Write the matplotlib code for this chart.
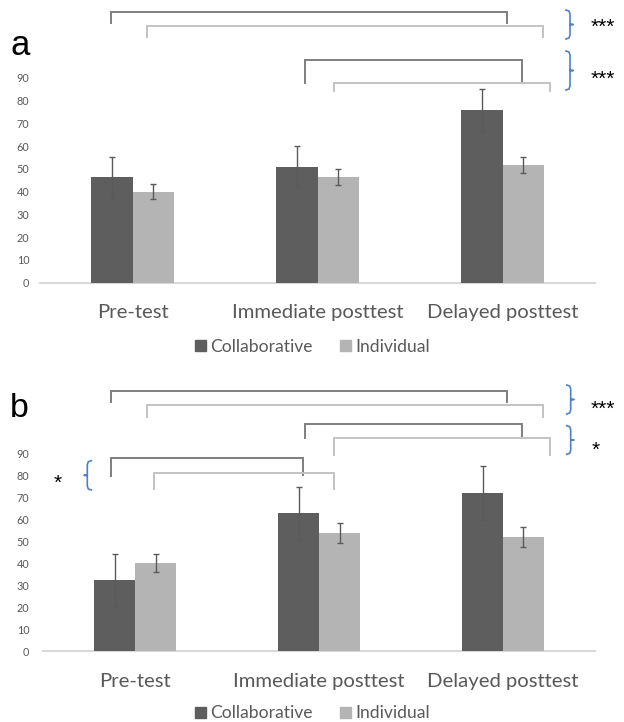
import matplotlib
matplotlib.use("Agg")
import matplotlib.pyplot as plt
import numpy as np
from matplotlib.lines import Line2D

plt.rcParams['font.family'] = ['Lato', 'DejaVu Sans']

categories = ["Pre-test", "Immediate posttest", "Delayed posttest"]
series_names = ["Collaborative", "Individual"]

a_collab = [46.4, 51.0, 75.7]
a_collab_err = [9.0, 9.2, 9.2]
a_indiv = [40.0, 46.4, 51.6]
a_indiv_err = [3.3, 3.7, 3.6]

b_collab = [32.3, 62.6, 72.1]
b_collab_err = [11.8, 12.0, 12.3]
b_indiv = [40.0, 53.6, 52.0]
b_indiv_err = [4.2, 4.5, 4.5]

yticks = list(range(0, 100, 10))

W, H = 624, 722
DARK = "#5e5e5e"
LIGHT = "#b4b4b4"
TXT = "#595959"
BR_DARK = "#7f7f7f"
BR_LIGHT = "#c3c3c3"
BLUE = "#4f81c7"
PX = 0.72  # points per pixel at 100 dpi

fig = plt.figure(figsize=(W / 100, H / 100), dpi=100)


def fx(x):
    return x / W


def fy(y):
    return 1 - y / H


def make_axes(left, right, top, bottom):
    return fig.add_axes([fx(left), fy(bottom), (right - left) / W, (bottom - top) / H])


def draw_panel(ax, collab, cerr, indiv, ierr, ypad_px, xbase_px):
    x = np.arange(len(categories))
    bw = 0.222
    ax.bar(x - bw / 2, collab, bw, color=DARK, label=series_names[0], zorder=2)
    ax.bar(x + bw / 2, indiv, bw, color=LIGHT, label=series_names[1], zorder=2)
    ax.errorbar(x - bw / 2, collab, yerr=cerr, fmt='none', ecolor="#5a5a5a",
                elinewidth=1.0, capsize=2.3, capthick=1.0, zorder=3)
    ax.errorbar(x + bw / 2, indiv, yerr=ierr, fmt='none', ecolor="#5a5a5a",
                elinewidth=1.0, capsize=2.3, capthick=1.0, zorder=3)
    ax.set_xlim(-0.5, 2.5)
    ax.set_ylim(0, 90)
    ax.set_yticks(yticks)
    ax.set_yticklabels([str(v) for v in yticks], fontsize=7.8, color=TXT)
    ax.set_xticks(x)
    ax.set_xticklabels(categories, fontsize=14.6, color=TXT)
    for lab in ax.get_xticklabels():
        lab.set_va('baseline')
    ax.tick_params(axis='both', length=0)
    ax.tick_params(axis='y', pad=ypad_px * PX)
    ax.tick_params(axis='x', pad=xbase_px * PX)
    for s in ['top', 'right', 'left']:
        ax.spines[s].set_visible(False)
    ax.spines['bottom'].set_color("#d9d9d9")
    ax.spines['bottom'].set_linewidth(1.5)
    ax.spines['bottom'].set_zorder(1)


def bracket(x1, x2, y, ybot1, ybot2, color):
    fig.add_artist(Line2D([fx(x1), fx(x1), fx(x2), fx(x2)],
                          [fy(ybot1), fy(y), fy(y), fy(ybot2)],
                          transform=fig.transFigure, color=color, lw=1.4,
                          solid_joinstyle='miter'))


def brace_right(x, top, bot):
    mid = (top + bot) / 2
    xs = [x - 4, x - 1, x, x, x + 3, x, x, x - 1, x - 4]
    ys = [top, top + 1, top + 4, mid, mid, mid, bot - 4, bot - 1, bot]
    fig.add_artist(Line2D([fx(v) for v in xs], [fy(v) for v in ys],
                          transform=fig.transFigure, color=BLUE, lw=1.2))


def brace_left(x, top, bot):
    mid = (top + bot) / 2
    xs = [x + 4, x + 1, x, x, x - 3, x, x, x + 1, x + 4]
    ys = [top, top + 1, top + 4, mid, mid, mid, bot - 4, bot - 1, bot]
    fig.add_artist(Line2D([fx(v) for v in xs], [fy(v) for v in ys],
                          transform=fig.transFigure, color=BLUE, lw=1.2))


def stars(x, yc, s):
    fig.text(fx(x), fy(yc + 12), s, fontsize=15, family='Liberation Sans',
             color='black', ha='left', va='baseline')


# Panel a
axa = make_axes(40, 595, 77.7, 282.7)
draw_panel(axa, a_collab, a_collab_err, a_indiv, a_indiv_err, 10.7, 35)
# Panel b
axb = make_axes(43.3, 595, 453.3, 651)
draw_panel(axb, b_collab, b_collab_err, b_indiv, b_indiv_err, 14, 36)

# legends
for yl in [346.7, 713.5]:
    handles = [plt.Rectangle((0, 0), 1, 1, color=DARK), plt.Rectangle((0, 0), 1, 1, color=LIGHT)]
    fig.legend(handles, series_names, loc='center', bbox_to_anchor=(fx(312.5), fy(yl)),
               ncol=2, frameon=False, fontsize=12.6, labelcolor=TXT,
               handlelength=0.62, handleheight=0.62, handletextpad=0.25,
               columnspacing=1.6, borderpad=0)

# panel labels
fig.text(fx(10), fy(55), "a", fontsize=25, family='Liberation Sans', va='baseline', ha='left')
fig.text(fx(10), fy(417), "b", fontsize=24.5, family='Liberation Sans', va='baseline', ha='left')

# Panel a brackets
bracket(110.7, 507.3, 11.7, 22.7, 22.7, BR_DARK)
bracket(147, 542.7, 25.7, 36.7, 36.7, BR_LIGHT)
bracket(305, 521.7, 60, 82.7, 83.3, BR_DARK)
bracket(334, 550, 83.3, 90.7, 90.7, BR_LIGHT)
brace_right(570, 10, 39)
brace_right(570, 51, 90)
stars(590.7, 20.7, "***")
stars(590.7, 73, "***")

# Panel b brackets
bracket(110.7, 507.3, 390.7, 402.3, 402.3, BR_DARK)
bracket(147, 542.7, 405, 416.7, 416.7, BR_LIGHT)
bracket(305, 521.7, 424, 437.7, 437.7, BR_DARK)
bracket(334, 550, 438.3, 455, 455, BR_LIGHT)
brace_right(570.7, 385, 414)
brace_right(570.7, 425.7, 454.3)
stars(590.7, 403.3, "***")
stars(591.7, 444, "*")

bracket(110.7, 302.7, 457.7, 475.7, 475, BR_DARK)
bracket(154, 334.3, 472.7, 489.3, 489.3, BR_LIGHT)
brace_left(87.3, 460.7, 490)
stars(54, 476.7, "*")

fig.savefig("out.png", dpi=100)
